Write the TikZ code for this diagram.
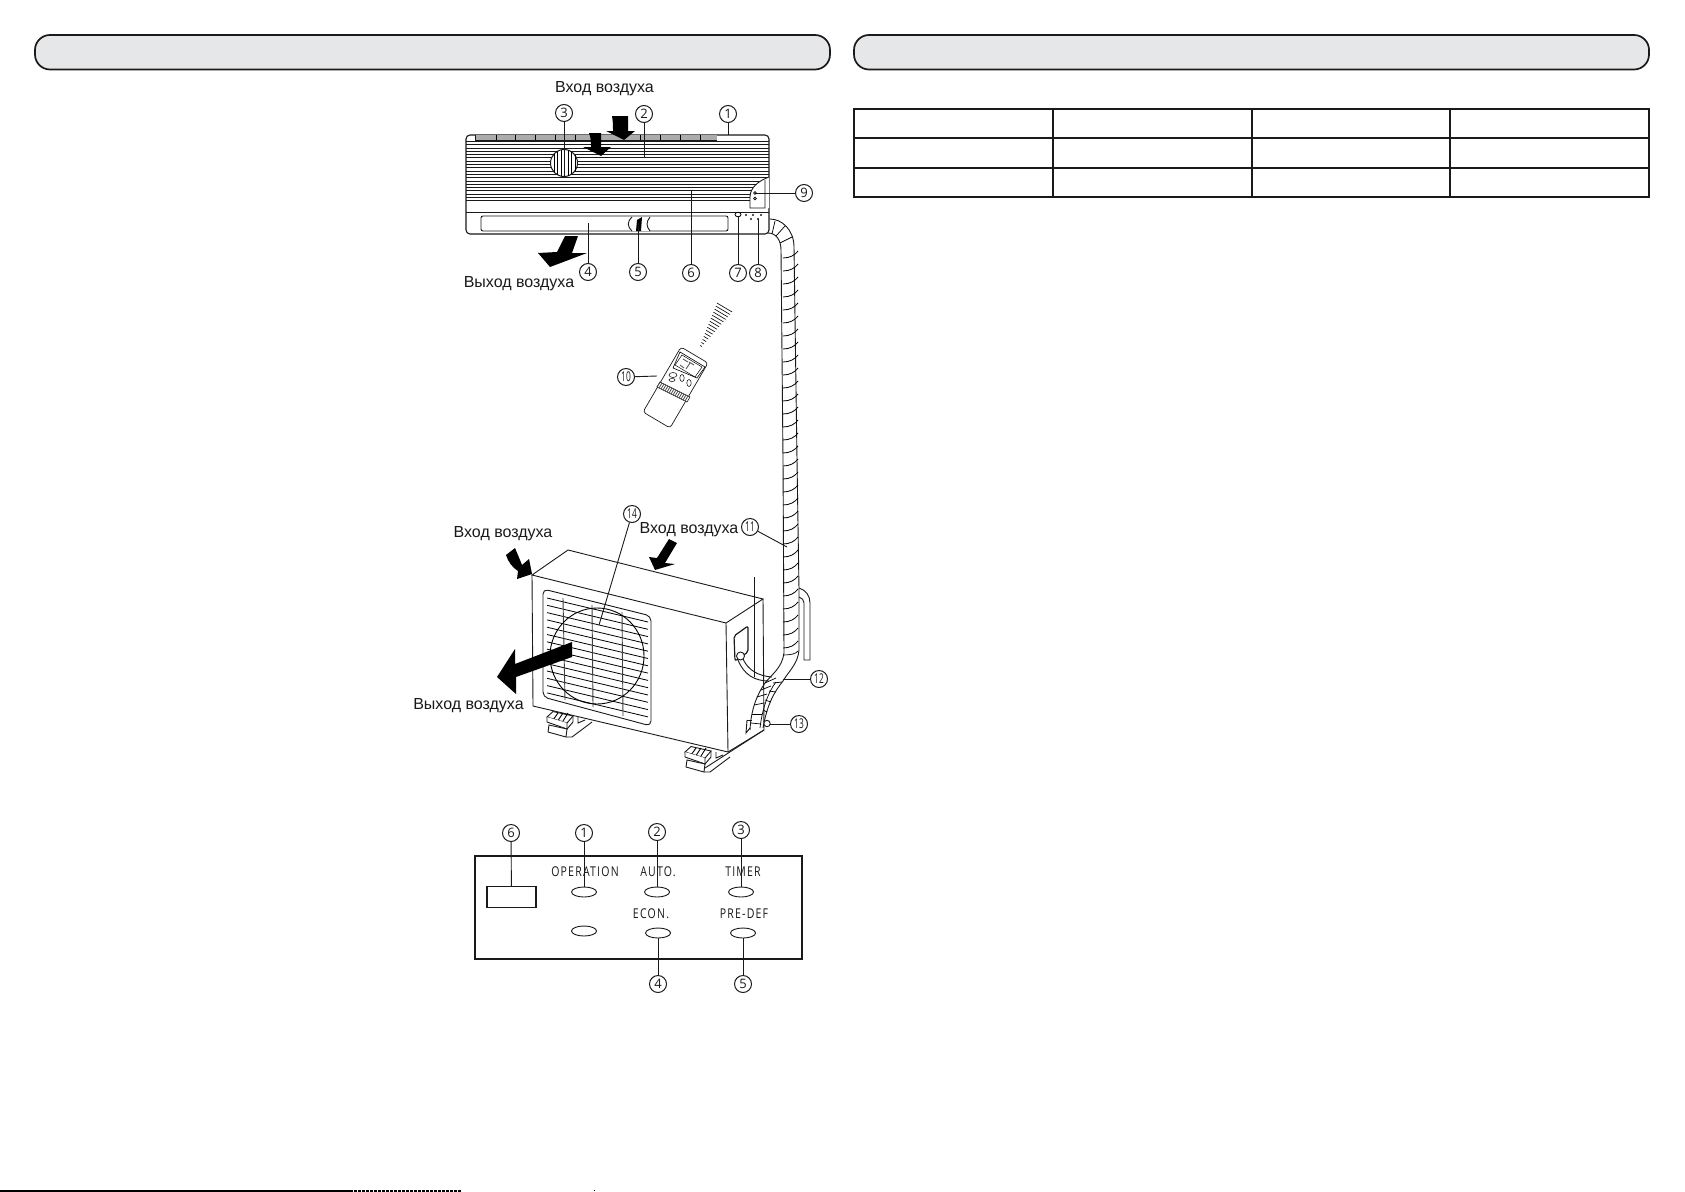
\documentclass[tikz,border=0pt]{standalone}
\usepackage{fontspec}
\setmainfont{Liberation Sans}
\newfontfamily\numfont{Open Sans}
\newfontfamily\narrowfont[FakeStretch=0.62]{Open Sans}
\newfontfamily\panelfont[FakeStretch=0.78,LetterSpace=9]{Open Sans}
\usetikzlibrary{calc,shapes.geometric}
\definecolor{barfill}{HTML}{E6E7E8}
\definecolor{inkline}{HTML}{1A1A1A}
\tikzset{
  callout/.style={circle,draw=inkline,line width=1pt,inner sep=0pt,minimum size=17pt,font=\numfont\fontsize{13}{13}\selectfont,text=inkline},
  calloutwide/.style={callout,font=\narrowfont\fontsize{13.5}{13}\selectfont},
  leader/.style={line width=0.9pt,draw=inkline},
  airtext/.style={inner sep=0pt,text=inkline,font=\fontsize{16}{18}\selectfont},
  paneltext/.style={inner sep=0pt,text=inkline,font=\panelfont\fontsize{13.5}{14}\selectfont},
  headbar/.style={fill=barfill,draw=inkline,line width=1.7pt,rounded corners=15pt},
  outline/.style={line width=0.9pt,draw=inkline},
  lamp/.style={line width=0.9pt,draw=inkline,fill=white}
}

\begin{document}
\begin{tikzpicture}[x=1pt,y=-1pt]
  \useasboundingbox (0,0) rectangle (1685,1191);
  \fill[white] (0,0) rectangle (1685,1191);

  % header bars
  \draw[headbar] (35,35) rectangle (830,69.5);
  \draw[headbar] (854,35) rectangle (1649,69.5);

  % table
  \draw[line width=2pt,draw=inkline] (854,109) rectangle (1648.5,197);
  \foreach \y in {138,168} {
    \draw[line width=2pt,draw=inkline] (854,\y) -- (1648.5,\y);
  }
  \foreach \x in {1053,1252,1450} {
    \draw[line width=1.6pt,draw=inkline] (\x,109) -- (\x,197);
  }

  % indoor unit
  \draw[outline,line width=1.1pt,rounded corners=4pt] (466,135) rectangle (769,234);
  \fill[gray!65] (475,135) rectangle (717,139.5);
  \foreach \x in {496,515,535,555,575,595,640,660,680,700} {
    \draw[line width=0.6pt] (\x,135) -- (\x,140);
  }
  \draw[outline] (475,135) -- (475,140) -- (717,140);
  \draw[outline] (466,141) -- (769,141);
  \draw[outline] (466,144) -- (769,144);
  % grille stripes
  \foreach \y in {148,151.3,...,202} {
    \draw[line width=0.9pt,draw=inkline] (466,\y) -- (769,\y);
  }
  \draw[outline] (466,212) -- (769,212);
  \draw[outline,rounded corners=2pt] (481,216) rectangle (728,231);

  % round badge
  \draw[lamp,line width=1pt] (564,163) circle (13.5);
  \foreach \x in {554,557.5,561,564.5,568,571.5,575} {
    \draw[line width=0.8pt] (\x,{163-sqrt(182-(\x-564)*(\x-564))}) -- (\x,{163+sqrt(182-(\x-564)*(\x-564))});
  }

  % door on the right
  \fill[white] (769,177) .. controls (758,181) and (750,188) .. (750,197) -- (750,208) -- (769,208) -- cycle;
  \draw[outline] (769,177) .. controls (758,181) and (750,188) .. (750,197) -- (750,208) -- (765,208) -- (765,180);
  \draw[line width=0.7pt] (755,193) circle (1.4);
  \draw[line width=0.7pt] (755,198.5) circle (1.4);

  % louver
  \fill[white] (630,216.5) rectangle (650,230.5);
  \draw[outline] (632,217) .. controls (627,222) and (627,226) .. (632,231);
  \draw[outline] (650,217) .. controls (646,222) and (646,226) .. (650,231);
  \fill[black] (637,220) -- (642,217) -- (641,231) -- (636,231) -- cycle;

  % lamp and sensor
  \draw[line width=0.8pt] (738,214.5) ellipse (3 and 2.3);
  \foreach \x/\y in {746/215,753/215,761/215,751/219,758/219} {
    \fill[inkline] (\x,\y) circle (1.1);
  }

  % indoor air arrows
  \fill[black] (612,116) -- (628,116) .. controls (628,125) and (628,125) .. (628,131) -- (635,131) -- (624,140) -- (606,131) -- (613,131) .. controls (613,125) and (613,122) .. (612,116) -- cycle;
  \fill[black] (589,133) -- (601,133) .. controls (601,142) and (601,142) .. (601,147) -- (611,147) -- (601,156) -- (583,147) -- (591,147) .. controls (591,142) and (591,138) .. (589,133) -- cycle;
  \fill[black] (565,236) -- (578,236) -- (572,253) -- (587,253) -- (550,267) -- (538,253) -- (557,252) -- cycle;

  % hose to the outdoor unit
  \draw[outline] (770,219) .. controls (782,219) and (794,230) .. (794,247) -- (797,460) -- (799,590) -- (799,650)
    .. controls (798,664) and (788,672) .. (783,681) .. controls (774,692) and (767,705) .. (763,728);
  \draw[outline] (768,233) .. controls (776,233) and (781,240) .. (781,250) -- (783,460) -- (784,653)
    .. controls (782,668) and (772,674) .. (765,683) .. controls (758,693) and (751,708) .. (750,730);
  \draw[line width=0.7pt] (775,221) -- (772,234);
  \draw[line width=0.7pt] (785,226) -- (776,236);
  \draw[line width=0.7pt] (792,237) -- (780,243);
  \foreach \y in {258,271,...,650} {
    \draw[line width=0.8pt] (783,\y) .. controls (790,\y) and (795,{\y-3}) .. (798,{\y-7});
  }
  \draw[line width=0.7pt] (783,655) .. controls (790,655) and (796,654) .. (798,651);
  \draw[line width=0.7pt] (776,682) .. controls (768,692) and (762,710) .. (760,728);
  \foreach \xa/\ya/\xb/\yb in {765/683/776/678,761/690/771/686,757/697/767/694,754/705/764/703,752/714/762/714,751/723/761/724,773/683/782/682,769/691/776/692,765/700/771/702,763/710/767/712} {
    \draw[line width=0.7pt] (\xa,\ya) -- (\xb,\yb);
  }

  % return tube
  \draw[outline] (799,588) .. controls (806,590) and (810,596) .. (810,603) -- (810,660) -- (804,660) -- (804,603) .. controls (804,600) and (802,598) .. (799,597);

  % remote control
  \draw[outline,line width=0.7pt,rounded corners=3pt] (681,347) -- (708,363) -- (670,428) -- (643,412) -- cycle;
  \fill[white] (660,382) -- (690,397) -- (687,402) -- (657,387) -- cycle;
  \draw[line width=0.5pt] (660,382) -- (690,397) -- (687,402) -- (657,387) -- cycle;
  \foreach \i in {0,...,14} {
    \draw[line width=0.8pt,draw=gray!60!black] ({660+2*\i},{382+\i}) -- ({657+2*\i},{387+\i});
  }
  \draw[line width=0.6pt] (680,352) -- (705,367) -- (697,378) -- (673,368) -- cycle;
  \draw[line width=0.5pt] (682,355) -- (702,367) -- (695,377) -- (675,365) -- cycle;
  \draw[line width=0.9pt,draw=gray!70!black] (683,359) -- (688,362) (689,362) -- (694,365) (680,365) -- (684,368) (690,363) -- (686,369);
  \draw[line width=0.5pt] (673,375) ellipse (4 and 2.5);
  \draw[line width=0.5pt] (672,380) ellipse (3 and 1.5);
  \draw[line width=0.5pt] (682,378) ellipse (2.2 and 3.5);
  \draw[line width=0.5pt] (689,383) ellipse (2.2 and 3.5);
  % signal
  \foreach \i in {0,...,14} {
    \pgfmathsetmacro\cx{701+23.5*\i/14}
    \pgfmathsetmacro\cy{346-38.5*\i/14}
    \pgfmathsetmacro\hx{0.8+6.8*\i/14}
    \pgfmathsetmacro\hy{0.5+4*\i/14}
    \draw[line width=0.6pt] ({\cx-\hx},{\cy-\hy}) -- ({\cx+\hx},{\cy+\hy});
  }

  % outdoor unit
  \coordinate (backtop) at (568,550);
  \coordinate (fronttl) at (532,575);
  \coordinate (fronttr) at (726,623);
  \coordinate (righttr) at (763,599);
  \coordinate (frontbl) at (533,706);
  \coordinate (frontbr) at (728,752);
  \coordinate (rightbr) at (764,730);
  \draw[outline] (fronttl) -- (backtop) -- (righttr) -- (fronttr) -- cycle;
  \draw[outline] (fronttl) -- (frontbl) -- (frontbr) -- (fronttr);
  \draw[outline] (righttr) -- (rightbr) -- (705,768);
  \draw[outline] (frontbr) -- (rightbr);
  \draw[outline] (754,577) -- (754,677);

  % feet
  \foreach \dx/\dy in {0/0,138/35} {
    \begin{scope}[shift={(\dx,\dy)}]
      \draw[outline,fill=white] (547,717) -- (553,711.5) -- (573,716) -- (567,723) -- cycle;
      \foreach \x in {558,563,568} {
        \draw[line width=0.9pt] (\x,713) -- ({\x-5},{720+(\x-558)*0.1});
      }
      \draw[outline,fill=white] (547,717) -- (547,722) -- (567,729) -- (567,723);
      \draw[outline,fill=white] (549,725) -- (567,729) -- (566,737) -- (548,732) -- cycle;
      \draw[outline] (573,716) -- (573,722) -- (567,729);
      \draw[outline] (566,737) -- (572,737) -- (592,722);
      \draw[outline] (578,717) -- (578,723) -- (585,720);
    \end{scope}
  }

  % front grille
  \draw[outline,rounded corners=5pt] (543,589) -- (651,616) -- (651,726) -- (543,697) -- cycle;
  \foreach \i in {0,...,13} {
    \draw[line width=0.8pt] (547,{598+7.3*\i}) -- (648,{622+7.3*\i});
  }
  \foreach \xa/\ya/\xb/\yb in {563/598/565/700,592/605/593/707,622/612/623/716} {
    \draw[line width=0.9pt,draw=black!75] (\xa,\ya) -- (\xb,\yb);
  }
  \draw[line width=0.9pt] (597,656) ellipse (47 and 48);

  % side handle and pipe
  \draw[outline,line width=1.2pt,rounded corners=2pt] (734,636) -- (748,626) -- (748,652) -- (735,661) -- cycle;
  \draw[outline] (738,660) .. controls (744,675) and (755,681) .. (769,681);
  \draw[outline] (743,659) .. controls (748,670) and (758,676) .. (772,677);
  \draw[lamp] (740.5,656) circle (4);

  % valve
  \draw[outline] (747,720) -- (746,733) -- (750,728);
  \draw[outline] (747,720) -- (752,720);
  \draw[lamp] (767,723.5) circle (3.2);

  % outdoor air arrows
  \fill[black] (572,642) -- (572,657) -- (516,677) -- (516,694) -- (497,677) -- (515,649) -- (515,664) -- cycle;
  \fill[black] (506,555) -- (515,548) .. controls (518,555) and (520,560) .. (522,565) -- (529,559) -- (532,574) -- (517,579) -- (518,571) .. controls (513,568) and (508,562) .. (506,555) -- cycle;
  \fill[black] (669,539) -- (677,543) -- (665,563) -- (675,564) -- (655,570) -- (649,557) -- (657,558) -- cycle;

  % air labels
  \node[airtext] (airin1) at (604.5,89) {Вход воздуха};
  \node[airtext] (airout1) at (519,284) {Выход воздуха};
  \node[airtext] (airin2) at (503,534) {Вход воздуха};
  \node[airtext] (airin3) at (689,530) {Вход воздуха};
  \node[airtext] (airout2) at (468.5,706) {Выход воздуха};

  % callouts on the units
  \foreach \nm/\x/\y/\ex/\ey in {1/728/114/728/135,2/644/114/644/157,3/564/113/564/177,4/588/272/588/223,5/638/272/638/223,6/691/273/691/190,7/738/273/738/217,8/758/273/758/219,9/804/193/755/193} {
    \node[callout] (c\nm) at (\x,\y) {\nm};
    \coordinate (e\nm) at (\ex,\ey);
    \draw[leader] (c\nm) -- (e\nm);
  }
  \foreach \nm/\x/\y/\ex/\ey in {10/626/377/657/376,11/750/527/787/547,12/819/679/783/679,13/799/724/770/724,14/632/514/599/625} {
    \node[calloutwide] (c\nm) at (\x,\y) {\nm};
    \coordinate (e\nm) at (\ex,\ey);
    \draw[leader] (c\nm) -- (e\nm);
  }

  % display panel
  \draw[outline,line width=1.1pt] (475,856) rectangle (802,959);
  \node[draw=inkline,line width=1.1pt,inner sep=0pt,minimum width=49pt,minimum height=20.5pt] (display) at (511.5,897) {};
  \foreach \nm/\x/\y in {a/584/892,b/657/892,c/741/892,d/584/931,e/658/933,f/743/933} {
    \node[lamp,ellipse,inner sep=0pt,minimum width=25pt,minimum height=10pt] (lamp\nm) at (\x,\y) {};
  }
  \node[paneltext] (opertext) at (585,872) {OPERATION};
  \node[paneltext] (autotext) at (658,872) {AUTO.};
  \node[paneltext] (timertext) at (743,872) {TIMER};
  \node[paneltext] (econtext) at (651,914) {ECON.};
  \node[paneltext] (predeftext) at (744,914) {PRE-DEF};
  \foreach \nm/\x/\y/\tgt in {6/511/833/display,1/584/833/lampa,2/657/832/lampb,3/741/830/lampc,4/658/984/lampe,5/743/984/lampf} {
    \node[callout] (p\nm) at (\x,\y) {\nm};
    \draw[leader] (p\nm) -- (\tgt);
  }

  % scan edge at the foot of the page
  \draw[line width=2pt,black] (0,1190.5) -- (350,1190.5);
  \draw[line width=2pt,black,dash pattern=on 3pt off 1pt] (350,1190.5) -- (462,1190.5);
  \fill[black] (593.5,1189.5) rectangle (595,1191);
\end{tikzpicture}
\end{document}
